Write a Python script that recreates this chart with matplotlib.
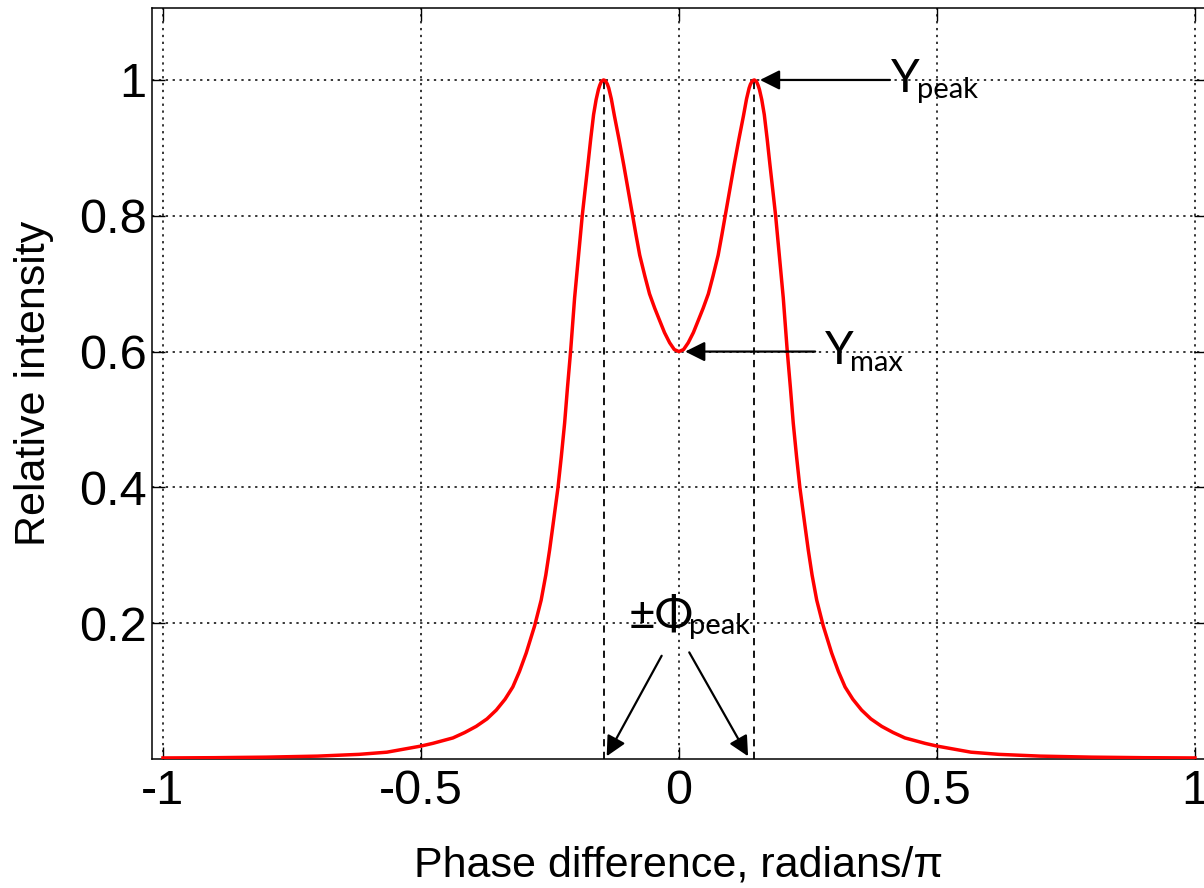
import numpy as np
import matplotlib
matplotlib.use('Agg')
import matplotlib.pyplot as plt

# curve (right half, the curve is symmetric about 0)
phase_half = [0.000, 0.009, 0.018, 0.028, 0.037, 0.047, 0.057, 0.066, 0.076, 0.083,
              0.089, 0.098, 0.107, 0.116, 0.125, 0.131, 0.136, 0.1385, 0.141, 0.1435,
              0.146, 0.1485, 0.151, 0.1535, 0.156, 0.1605, 0.1654, 0.171, 0.1764, 0.182,
              0.1874, 0.195, 0.2022, 0.2099, 0.216, 0.2215, 0.228, 0.2345, 0.244, 0.2506,
              0.258, 0.267, 0.2797, 0.296, 0.309, 0.322, 0.337, 0.354, 0.372, 0.393,
              0.415, 0.438, 0.477, 0.500, 0.566, 0.62, 0.70, 0.80, 0.90, 1.00]
intensity_half = [0.600, 0.603, 0.613, 0.628, 0.645, 0.664, 0.685, 0.711, 0.742, 0.771,
                  0.797, 0.836, 0.875, 0.912, 0.947, 0.972, 0.988, 0.9935, 0.997, 0.9993,
                  1.000, 0.999, 0.9965, 0.992, 0.986, 0.971, 0.949, 0.913, 0.875, 0.837,
                  0.800, 0.738, 0.679, 0.601, 0.547, 0.495, 0.445, 0.399, 0.345, 0.308,
                  0.271, 0.234, 0.196, 0.156, 0.129, 0.106, 0.088, 0.072, 0.059, 0.048,
                  0.039, 0.031, 0.023, 0.019, 0.010, 0.0068, 0.0042, 0.0027, 0.0019, 0.0015]

phi_peak = 0.146
y_peak = 1.0
y_max = 0.6

x_ticks = [-1, -0.5, 0, 0.5, 1]
x_ticklabels = ['-1', '-0.5', '0', '0.5', '1']
y_ticks = [0.2, 0.4, 0.6, 0.8, 1]
y_ticklabels = ['0.2', '0.4', '0.6', '0.8', '1']

# mirror the half curve
ph = np.array(phase_half)
yi = np.array(intensity_half)
phase = np.concatenate([-ph[::-1], ph[1:]])
intensity = np.concatenate([yi[::-1], yi[1:]])

plt.rcParams['font.family'] = ['Liberation Sans', 'DejaVu Sans']

fig = plt.figure(figsize=(12.04, 8.88), dpi=100)
ax = fig.add_axes([0.1262, 0.1453, 0.8754, 0.8457])

# grid, matlab style dotted
for xt in x_ticks:
    ax.axvline(xt, color='black', lw=1.1, ls=(0, (1.5, 3)), zorder=1)
for yt in y_ticks:
    ax.axhline(yt, color='black', lw=1.1, ls=(0, (1.5, 3)), zorder=1)

# peak markers
for xp in (-phi_peak, phi_peak):
    ax.plot([xp, xp], [0, y_peak], color='black', lw=1.3, ls=(0, (4, 3)), zorder=2)

ax.plot(phase, intensity, color='red', lw=2.5, zorder=3)

ax.set_xlim(-1.0213, 1.0213)
ax.set_ylim(0, 1.106)
ax.set_xticks(x_ticks)
ax.set_xticklabels(x_ticklabels)
ax.set_yticks(y_ticks)
ax.set_yticklabels(y_ticklabels)
ax.tick_params(direction='in', length=9, width=1.0, top=True, right=True,
               labelsize=35)
ax.tick_params(axis='x', pad=7)
ax.tick_params(axis='y', pad=4)
for s in ax.spines.values():
    s.set_linewidth(1.1)

ax.set_xlabel('Phase difference, radians/\u03c0', fontsize=31)
ax.set_ylabel('Relative intensity', fontsize=31)
ax.yaxis.set_label_coords(-0.093, 0.5)
ax.xaxis.set_label_coords(0.5, -0.115)

# annotations (added on top like in the slide)
arrow = dict(arrowstyle='-|>', color='black', lw=1.6, mutation_scale=30,
             shrinkA=0, shrinkB=0)
ax.annotate('', xy=(0.157, 1.0), xytext=(0.409, 1.0), arrowprops=arrow)
ax.annotate('', xy=(0.012, 0.6), xytext=(0.264, 0.6), arrowprops=arrow)
ax.annotate('', xy=(-0.140, 0.004), xytext=(-0.0335, 0.152), arrowprops=arrow)
ax.annotate('', xy=(0.134, 0.004), xytext=(0.020, 0.157), arrowprops=arrow)

afont = ['Lato', 'DejaVu Sans']
ax.text(0.411, 0.982, 'Y', fontsize=33, family=afont)
ax.text(0.461, 0.974, 'peak', fontsize=21, family=afont)
ax.text(0.283, 0.581, 'Y', fontsize=33, family=afont)
ax.text(0.332, 0.571, 'max', fontsize=21, family=afont)
ax.text(-0.097, 0.191, '\u00b1\u03a6', fontsize=33, family=afont)
ax.text(0.019, 0.184, 'peak', fontsize=21, family=afont)

fig.savefig('out.png', dpi=100)
